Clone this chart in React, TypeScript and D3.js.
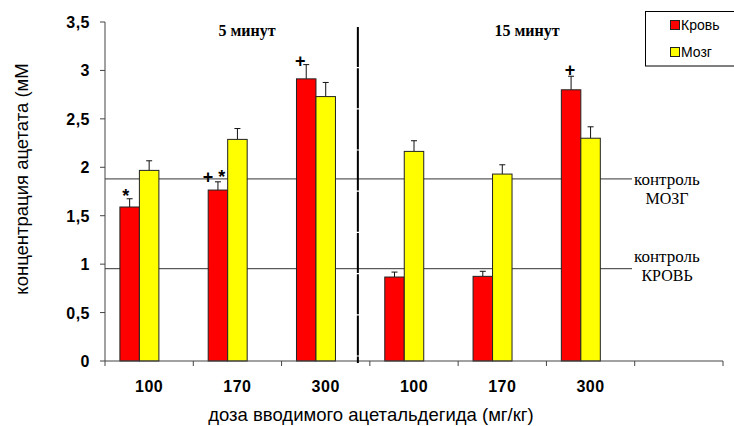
import * as d3 from 'd3';
import React from 'react';

// doses (7th slot empty, as in the original chart)
const doses = ['100', '170', '300', '100', '170', '300', ''];
const series = ['Кровь', 'Мозг'];
const colors = ['#ff0000', '#ffff00'];

const blood = [1.59, 1.765, 2.913, 0.867, 0.874, 2.8, null];
const bloodErr = [0.085, 0.085, 0.147, 0.051, 0.052, 0.14, null];
const brain = [1.968, 2.288, 2.73, 2.164, 1.93, 2.3, null];
const brainErr = [0.099, 0.112, 0.146, 0.11, 0.096, 0.118, null];

const yTicks = [0, 0.5, 1, 1.5, 2, 2.5, 3, 3.5];
const controlBrain = 1.88;
const controlBlood = 0.953;

// significance marks on blood bars
const marks = [
  { i: 0, text: '*', dx: -4, dy: 3 },
  { i: 1, text: '+ *', dx: -4, dy: 1 },
  { i: 2, text: '+', dx: -6, dy: 2 },
  { i: 5, text: '+', dx: -1, dy: 0 },
];

const W = 734, H = 426;
const margin = { top: 22, right: 11, bottom: 65, left: 105 };

export default function App() {
  const x = d3.scaleBand<number>()
    .domain(d3.range(doses.length))
    .range([margin.left, W - margin.right])
    .padding(0);

  // three slots per group (third is empty), like excel did
  const xs = d3.scaleBand<string>()
    .domain([...series, '_'])
    .range([0, x.bandwidth()])
    .paddingInner(0)
    .paddingOuter(0.765);

  const y = d3.scaleLinear()
    .domain([0, 3.5])
    .range([H - margin.bottom, margin.top]);

  const sans = "'Liberation Sans', Arial, sans-serif";
  const serif = "'Liberation Serif', 'Times New Roman', serif";
  const axisColor = '#444';

  const data = [
    { vals: blood, errs: bloodErr },
    { vals: brain, errs: brainErr },
  ];

  const divX = (x(2)! + x.bandwidth() + x(3)!) / 2 - 12;

  return (
    <svg width={W} height={H} style={{ position: 'absolute', left: 0, top: 0, background: '#fff' }}>
      {/* control lines */}
      {[controlBrain, controlBlood].map((c, k) => (
        <line key={k} x1={margin.left} x2={632} y1={y(c)} y2={y(c)} stroke="#333" strokeWidth={1} />
      ))}

      {/* bars */}
      {data.map((s, si) => (
        <g key={si}>
          {s.vals.map((v, i) => v == null ? null : (
            <g key={i}>
              <line
                x1={x(i)! + xs(series[si])! + xs.bandwidth() / 2}
                x2={x(i)! + xs(series[si])! + xs.bandwidth() / 2}
                y1={y(v)} y2={y(v + s.errs[i]!)}
                stroke="#111" strokeWidth={1} />
              <line
                x1={x(i)! + xs(series[si])! + xs.bandwidth() / 2 - 3}
                x2={x(i)! + xs(series[si])! + xs.bandwidth() / 2 + 3}
                y1={y(v + s.errs[i]!)} y2={y(v + s.errs[i]!)}
                stroke="#111" strokeWidth={1} />
              <rect
                x={x(i)! + xs(series[si])!}
                y={y(v)}
                width={xs.bandwidth()}
                height={y(0) - y(v)}
                fill={colors[si]}
                stroke="#222" strokeWidth={1} />
            </g>
          ))}
        </g>
      ))}

      {/* significance marks */}
      {marks.map((m, k) => (
        <text key={k}
          x={x(m.i)! + xs(series[0])! + xs.bandwidth() / 2 + m.dx}
          y={y(blood[m.i]! + bloodErr[m.i]!) + m.dy}
          textAnchor="middle" fontFamily={sans} fontWeight="bold" fontSize={18} fill="#000">
          {m.text}
        </text>
      ))}

      {/* y axis */}
      <line x1={margin.left} x2={margin.left} y1={y(3.5)} y2={y(0)} stroke={axisColor} />
      {yTicks.map(t => (
        <g key={t}>
          <line x1={margin.left - 5} x2={margin.left} y1={y(t)} y2={y(t)} stroke={axisColor} />
          <text x={90} y={y(t) + 6} textAnchor="end" fontFamily={sans} fontWeight="bold"
            fontSize={16} letterSpacing={0.5} fill="#000">
            {String(t).replace('.', ',')}
          </text>
        </g>
      ))}

      {/* x axis */}
      <line x1={margin.left} x2={W - margin.right} y1={y(0)} y2={y(0)} stroke={axisColor} />
      {d3.range(doses.length + 1).map(i => {
        const px = margin.left + i * x.step();
        return <line key={i} x1={px} x2={px} y1={y(0)} y2={y(0) + 5} stroke={axisColor} />;
      })}
      {doses.map((d, i) => (
        <text key={i} x={x(i)! + x.bandwidth() / 2} y={392} textAnchor="middle"
          fontFamily={sans} fontWeight="bold" fontSize={16} letterSpacing={0.5} fill="#000">
          {d}
        </text>
      ))}

      {/* divider between 5 and 15 min */}
      <line x1={divX} x2={divX} y1={27} y2={363} stroke="#000" strokeWidth={2} strokeDasharray="40,1.2" />

      <text x={247} y={36} textAnchor="middle" fontFamily={serif} fontWeight="bold" fontSize={16}>5 минут</text>
      <text x={527} y={36} textAnchor="middle" fontFamily={serif} fontWeight="bold" fontSize={16}>15 минут</text>

      {/* control labels */}
      <text x={634} y={185} fontFamily={serif} fontSize={17}>контроль</text>
      <text x={667} y={204} textAnchor="middle" fontFamily={serif} fontSize={16}>МОЗГ</text>
      <text x={634} y={262} fontFamily={serif} fontSize={17}>контроль</text>
      <text x={667} y={281} textAnchor="middle" fontFamily={serif} fontSize={16}>КРОВЬ</text>

      {/* axis titles */}
      <text transform={`translate(28,179) rotate(-90)`} textAnchor="middle" fontFamily={sans} fontSize={18.5}>
        концентрация ацетата (мМ
      </text>
      <text x={371} y={421} textAnchor="middle" fontFamily={sans} fontSize={18.5}>
        доза вводимого ацетальдегида (мг/кг)
      </text>

      {/* legend */}
      <rect x={645.5} y={11.5} width={100} height={54.5} fill="#fff" stroke="#000" />
      {series.map((s, i) => (
        <g key={s}>
          <rect x={670.5} y={20.5 + i * 27} width={9} height={9} fill={colors[i]} stroke="#222" />
          <text x={681} y={30 + i * 27} fontFamily={sans} fontSize={14}>{s}</text>
        </g>
      ))}
    </svg>
  );
}
